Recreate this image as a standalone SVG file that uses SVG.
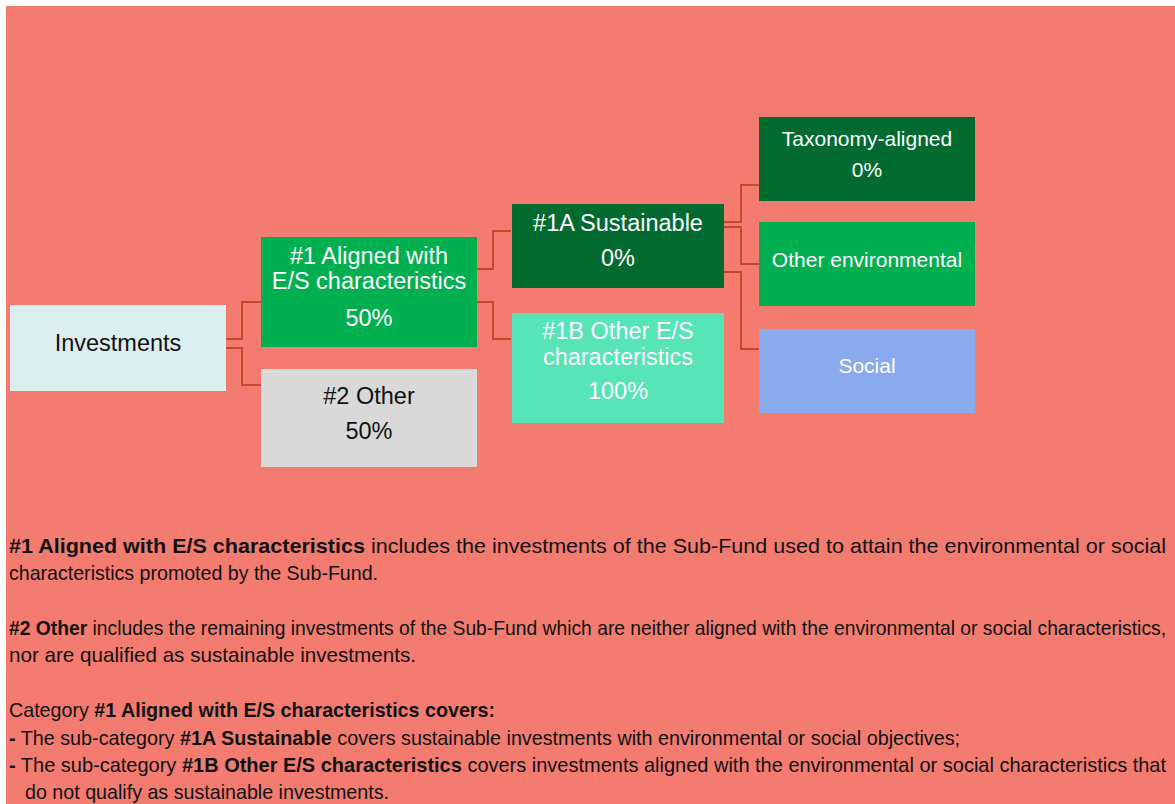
<svg xmlns="http://www.w3.org/2000/svg" width="1175" height="804" viewBox="0 0 1175 804">
<style>
.node text{font-family:"Liberation Sans",Arial,sans-serif;text-anchor:middle}
.big{font-size:23.5px}
.sm{font-size:21px}
.w{fill:#ffffff}
.k{fill:#111111}
.conn path{fill:none;stroke:#C9472C;stroke-width:2}
.body{font-family:"Liberation Sans",Arial,sans-serif;font-size:20px;fill:#111111}
.b{font-weight:bold}
</style>
<rect x="6" y="6" width="1169" height="798" fill="#F37B6F"/>
<g class="conn" id="connectors">
<path d="M226,339 H242 V302 H261"/>
<path d="M226,348 H242 V385 H261"/>
<path d="M477,269 H493 V231 H511"/>
<path d="M477,302 H493 V339 H511"/>
<path d="M723,222 H741 V185 H759"/>
<path d="M723,227 H741 V264 H759"/>
<path d="M723,272 H741 V349 H759"/>
</g>
<g class="node" id="investments">
<rect x="10" y="305" width="216" height="86" fill="#DDEEF1"/>
<text class="big k" x="118" y="351">Investments</text>
</g>
<g class="node" id="aligned">
<rect x="261" y="237" width="216" height="110" fill="#00B050"/>
<text class="big w" x="369" y="264">#1 Aligned with</text>
<text class="big w" x="369" y="289">E/S characteristics</text>
<text class="big w" x="369" y="326">50%</text>
</g>
<g class="node" id="other">
<rect x="261" y="369" width="216" height="98" fill="#D9D9D9"/>
<text class="big k" x="369" y="404">#2 Other</text>
<text class="big k" x="369" y="439">50%</text>
</g>
<g class="node" id="sustainable">
<rect x="512" y="204" width="212" height="84" fill="#006A31"/>
<text class="big w" x="618" y="231">#1A Sustainable</text>
<text class="big w" x="618" y="266">0%</text>
</g>
<g class="node" id="otheres">
<rect x="512" y="313" width="212" height="110" fill="#57E4B7"/>
<text class="big w" x="618" y="339">#1B Other E/S</text>
<text class="big w" x="618" y="365">characteristics</text>
<text class="big w" x="618" y="399">100%</text>
</g>
<g class="node" id="taxonomy">
<rect x="759" y="117" width="216" height="84" fill="#006A31"/>
<text class="sm w" x="867" y="146">Taxonomy-aligned</text>
<text class="sm w" x="867" y="177">0%</text>
</g>
<g class="node" id="otherenv">
<rect x="759" y="222" width="216" height="84" fill="#00B050"/>
<text class="sm w" x="867" y="267">Other environmental</text>
</g>
<g class="node" id="social">
<rect x="759" y="329" width="216" height="84" fill="#8AAAEE"/>
<text class="sm w" x="867" y="373">Social</text>
</g>
<g id="legend">
<text class="body" transform="translate(9,553) scale(0.9,1)" x="0" y="0" textLength="1285.6" lengthAdjust="spacingAndGlyphs"><tspan class="b">#1 Aligned with E/S characteristics</tspan> includes the investments of the Sub-Fund used to attain the environmental or social</text>
<text class="body" transform="translate(9,580) scale(0.9,1)" x="0" y="0" textLength="410" lengthAdjust="spacingAndGlyphs">characteristics promoted by the Sub-Fund.</text>
<text class="body" transform="translate(9,635) scale(0.9,1)" x="0" y="0" textLength="1285.6" lengthAdjust="spacingAndGlyphs"><tspan class="b">#2 Other</tspan> includes the remaining investments of the Sub-Fund which are neither aligned with the environmental or social characteristics,</text>
<text class="body" transform="translate(9,662) scale(0.9,1)" x="0" y="0" textLength="452.2" lengthAdjust="spacingAndGlyphs">nor are qualified as sustainable investments.</text>
<text class="body" transform="translate(9,717) scale(0.9,1)" x="0" y="0" textLength="540" lengthAdjust="spacingAndGlyphs">Category <tspan class="b">#1 Aligned with E/S characteristics covers:</tspan></text>
<text class="body" transform="translate(9,745) scale(0.9,1)" x="0" y="0" textLength="1056.7" lengthAdjust="spacingAndGlyphs"><tspan class="b">-</tspan> The sub-category <tspan class="b">#1A Sustainable</tspan> covers sustainable investments with environmental or social objectives;</text>
<text class="body" transform="translate(9,772) scale(0.9,1)" x="0" y="0" textLength="1285.6" lengthAdjust="spacingAndGlyphs"><tspan class="b">-</tspan> The sub-category <tspan class="b">#1B Other E/S characteristics</tspan> covers investments aligned with the environmental or social characteristics that</text>
<text class="body" transform="translate(25,799) scale(0.9,1)" x="0" y="0" textLength="404.4" lengthAdjust="spacingAndGlyphs">do not qualify as sustainable investments.</text>
</g>
</svg>
